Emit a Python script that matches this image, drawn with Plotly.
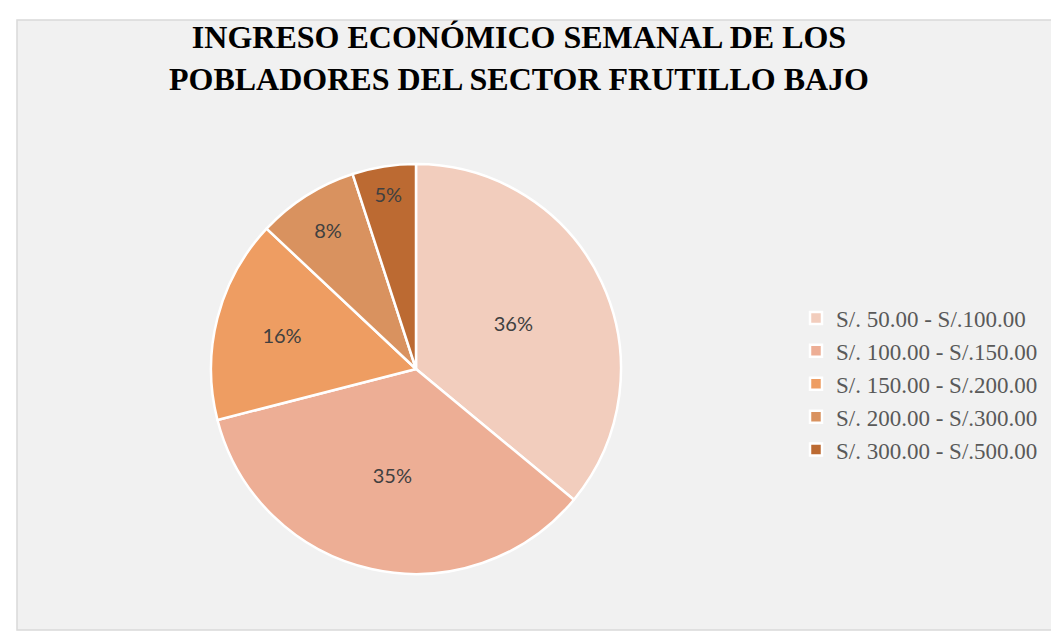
import plotly.graph_objects as go

categories = ["S/. 50.00 - S/.100.00", "S/. 100.00 - S/.150.00", "S/. 150.00 - S/.200.00",
              "S/. 200.00 - S/.300.00", "S/. 300.00 - S/.500.00"]
percentages = [36, 35, 16, 8, 5]
colors = ["#F2CDBD", "#EDAE95", "#EE9D62", "#D9925F", "#BC6A32"]

W, H = 1059, 632

fig = go.Figure(go.Pie(
    labels=categories,
    values=percentages,
    sort=False,
    direction="clockwise",
    rotation=0,
    marker=dict(colors=colors, line=dict(color="white", width=2.5)),
    texttemplate="%{percent:.0%}",
    textposition="inside",
    insidetextorientation="horizontal",
    textfont=dict(family="Lato, Carlito, sans-serif", size=20, color="#404040"),
    domain=dict(x=[198 / W, 618 / W], y=[1 - 566 / H, 1 - 156 / H]),
    hoverinfo="label+percent",
))

fig.update_layout(
    width=W, height=H,
    margin=dict(l=0, r=0, t=0, b=0),
    paper_bgcolor="white",
    plot_bgcolor="white",
    title=dict(
        text="INGRESO ECONÓMICO SEMANAL DE LOS<br>POBLADORES DEL SECTOR FRUTILLO BAJO",
        x=511 / W, xanchor="center",
        y=1 - 40 / H, yanchor="top",
        font=dict(family="Liberation Serif, Times New Roman, serif", size=32, color="black", weight="bold"),
    ),
    legend=dict(
        x=788 / W, xanchor="left",
        y=1 - 376 / H, yanchor="middle",
        font=dict(family="Liberation Serif, Times New Roman, serif", size=23, color="#595959"),
        bgcolor="rgba(0,0,0,0)",
    ),
    shapes=[dict(type="rect", xref="paper", yref="paper",
                 x0=9 / W, x1=1050 / W, y0=1 - 622 / H, y1=1 - 12 / H,
                 line=dict(color="#D9D9D9", width=1.5), fillcolor="#F1F1F1", layer="below")],
)

fig.write_html("out.html")
